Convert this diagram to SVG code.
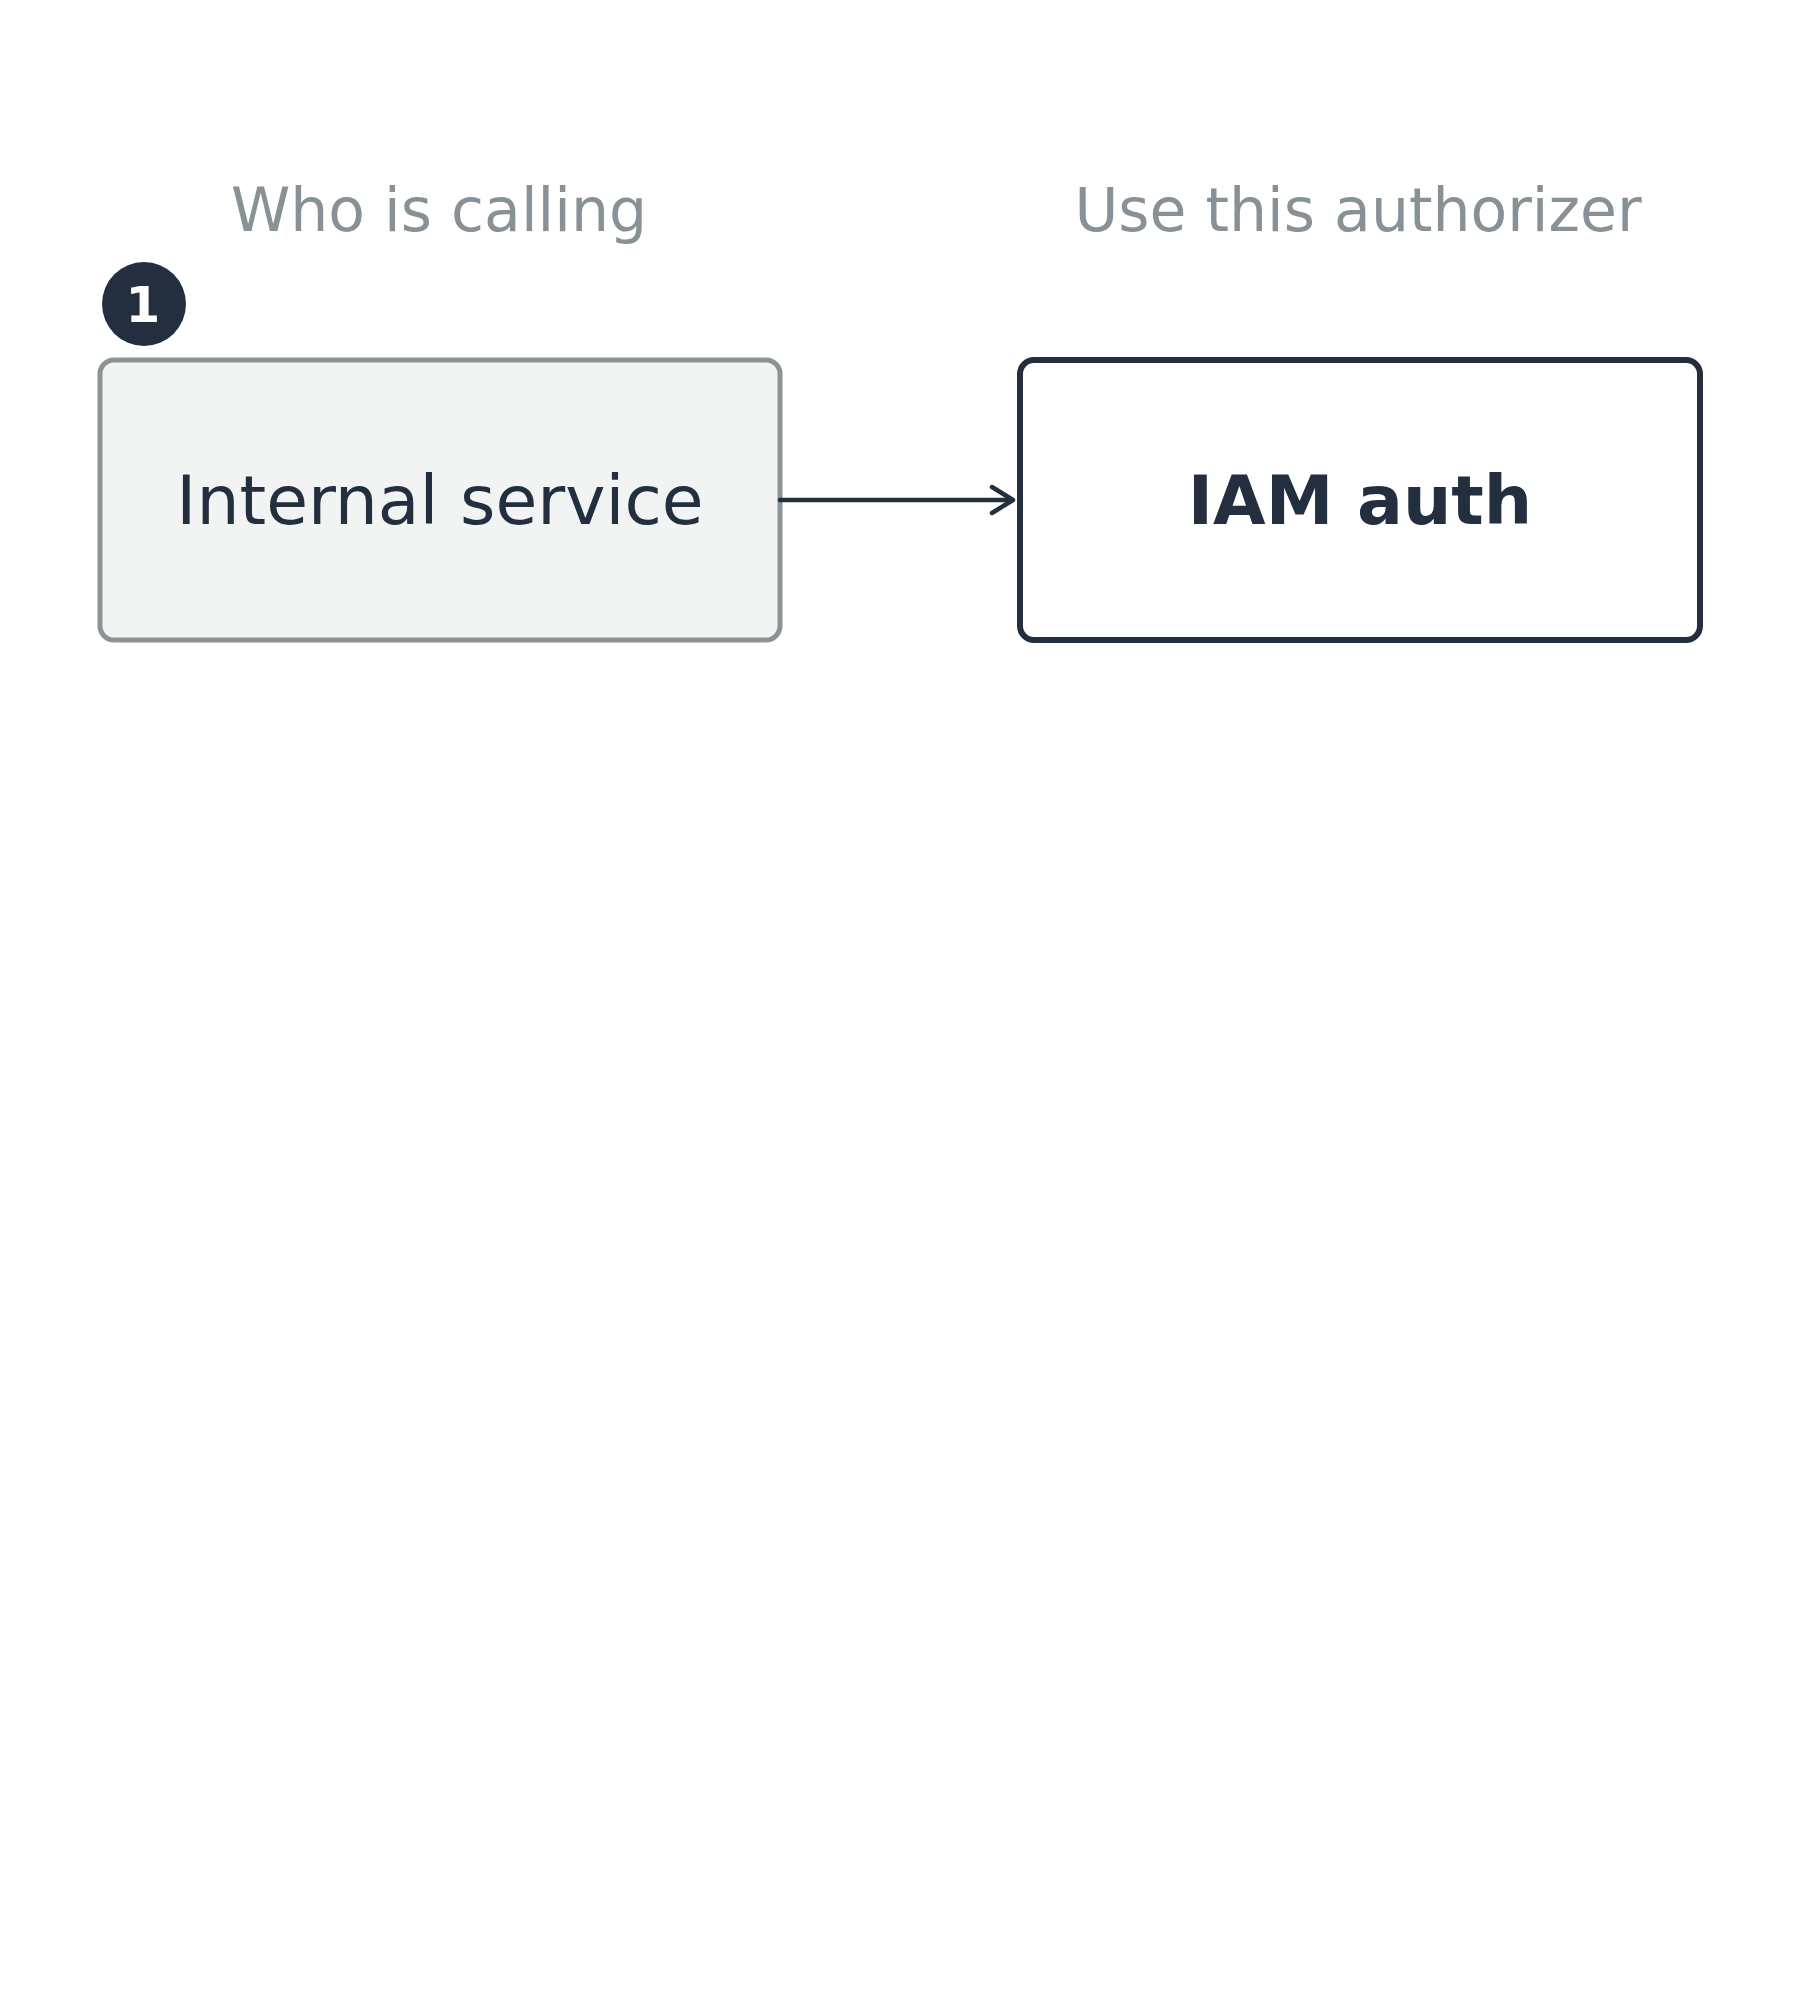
<svg xmlns="http://www.w3.org/2000/svg" width="1800" height="2000" viewBox="0 0 1800 2000">
  <style>
    .title { font-family: "DejaVu Sans", sans-serif; font-size: 60px; fill: #879196; text-anchor: middle; }
    .label { font-family: "DejaVu Sans", sans-serif; font-size: 68px; fill: #232f3e; text-anchor: middle; }
    .bold { font-weight: bold; }
    .conn { stroke: #232f3e; stroke-width: 4.5; fill: none; stroke-linecap: round; stroke-linejoin: round; }
  </style>
  <rect width="1800" height="2000" fill="#ffffff"/>
  <text class="title" x="439" y="231">Who is calling</text>
  <text class="title" x="1358" y="231">Use this authorizer</text>
  <g id="internal-service">
    <rect x="100" y="360" width="680" height="280" rx="14" fill="#f2f3f3" stroke="#8c9396" stroke-width="5"/>
    <text class="label" x="440" y="524">Internal service</text>
  </g>
  <g id="badge-1">
    <circle cx="144" cy="304" r="42" fill="#232f3e"/>
    <text x="143" y="322" font-family="DejaVu Sans, sans-serif" font-size="50" font-weight="bold" fill="#ffffff" text-anchor="middle">1</text>
  </g>
  <g id="iam-auth">
    <rect x="1020" y="360" width="680" height="280" rx="14" fill="#ffffff" stroke="#232f3e" stroke-width="6"/>
    <text class="label bold" x="1360" y="524">IAM auth</text>
  </g>
  <g id="connectors">
    <path class="conn" d="M780 500 H1012"/>
    <path class="conn" d="M992 487 L1013 500 L992 513"/>
  </g>
</svg>
